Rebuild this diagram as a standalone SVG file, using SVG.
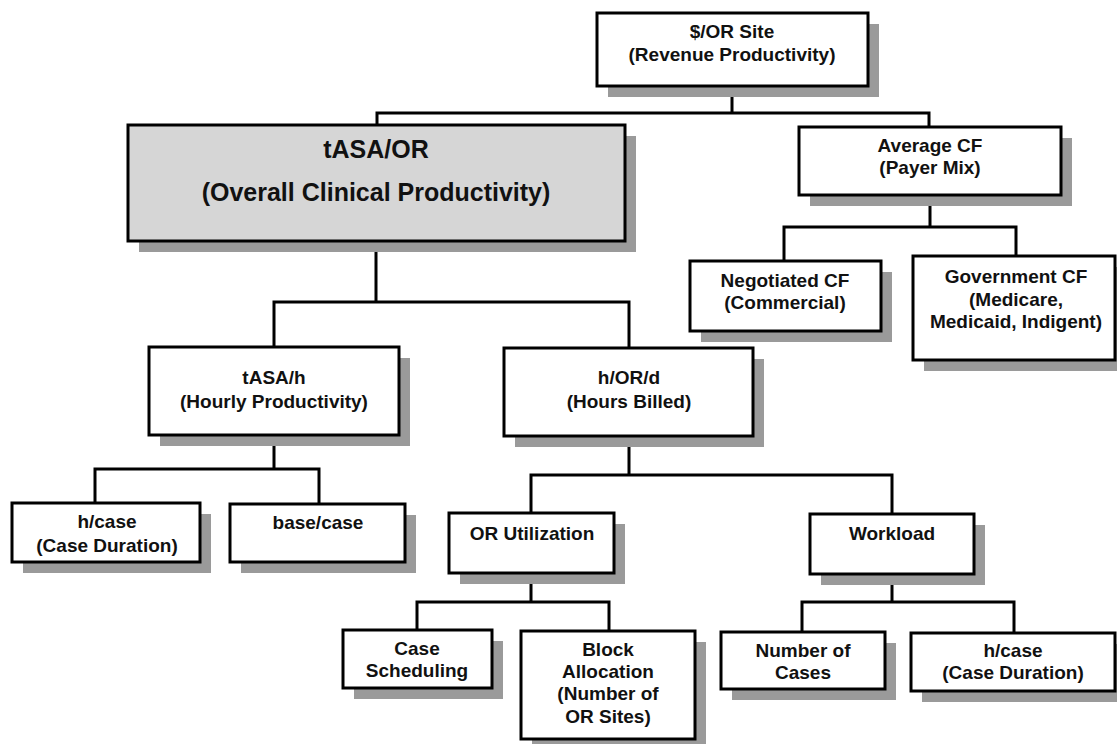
<svg xmlns="http://www.w3.org/2000/svg" width="1117" height="744" viewBox="0 0 1117 744">
<style>
.sh{fill:#9a9a9a}
.bx{fill:#ffffff;stroke:#000;stroke-width:3}
.gbx{fill:#d6d6d6;stroke:#000;stroke-width:3}
.t{font-family:"Liberation Sans",Arial,sans-serif;font-weight:bold;font-size:19px;fill:#111;text-anchor:middle}
.tl{font-family:"Liberation Sans",Arial,sans-serif;font-weight:bold;font-size:25px;fill:#111;text-anchor:middle}
.c{fill:none;stroke:#000;stroke-width:3;stroke-linejoin:miter}
</style>
<rect width="1117" height="744" fill="#fff"/>
<g id="connectors">
<path class="c" d="M732 86V113M377 125V113H929V127"/>
<path class="c" d="M930 195V227M784 261V227H1016V256"/>
<path class="c" d="M376 241V302M274 347V302H629V348"/>
<path class="c" d="M274 435V469M95 503V469H319V504"/>
<path class="c" d="M629 436V475M531 513V475H892V514"/>
<path class="c" d="M531 573V602M417 630V602H609V631"/>
<path class="c" d="M892 574V602M802 632V602H1014V633"/>
</g>
<g id="n-orsite">
<rect class="sh" x="608" y="24" width="271" height="73"/>
<rect class="bx" x="597" y="13" width="271" height="73"/>
<text class="t" x="732" y="38">$/OR Site</text>
<text class="t" x="732" y="61">(Revenue Productivity)</text>
</g>
<g id="n-tasaor">
<rect class="sh" x="139" y="136" width="497" height="116"/>
<rect class="gbx" x="128" y="125" width="497" height="116"/>
<text class="tl" x="376" y="158">tASA/OR</text>
<text class="tl" x="376" y="201">(Overall Clinical Productivity)</text>
</g>
<g id="n-avgcf">
<rect class="sh" x="810" y="138" width="262" height="68"/>
<rect class="bx" x="799" y="127" width="262" height="68"/>
<text class="t" x="930" y="152">Average CF</text>
<text class="t" x="930" y="174">(Payer Mix)</text>
</g>
<g id="n-negcf">
<rect class="sh" x="701" y="272" width="191" height="70"/>
<rect class="bx" x="690" y="261" width="191" height="70"/>
<text class="t" x="785" y="287">Negotiated CF</text>
<text class="t" x="785" y="309">(Commercial)</text>
</g>
<g id="n-govcf">
<rect class="sh" x="924" y="267" width="202" height="104"/>
<rect class="bx" x="913" y="256" width="202" height="104"/>
<text class="t" x="1016" y="283">Government CF</text>
<text class="t" x="1016" y="306">(Medicare,</text>
<text class="t" x="1016" y="328">Medicaid, Indigent)</text>
</g>
<g id="n-tasah">
<rect class="sh" x="160" y="358" width="250" height="88"/>
<rect class="bx" x="149" y="347" width="250" height="88"/>
<text class="t" x="274" y="384">tASA/h</text>
<text class="t" x="274" y="408">(Hourly Productivity)</text>
</g>
<g id="n-hord">
<rect class="sh" x="515" y="359" width="249" height="88"/>
<rect class="bx" x="504" y="348" width="249" height="88"/>
<text class="t" x="629" y="384">h/OR/d</text>
<text class="t" x="629" y="408">(Hours Billed)</text>
</g>
<g id="n-hcase1">
<rect class="sh" x="23" y="514" width="188" height="59"/>
<rect class="bx" x="12" y="503" width="188" height="59"/>
<text class="t" x="107" y="528">h/case</text>
<text class="t" x="107" y="552">(Case Duration)</text>
</g>
<g id="n-basecase">
<rect class="sh" x="241" y="515" width="175" height="58"/>
<rect class="bx" x="230" y="504" width="175" height="58"/>
<text class="t" x="318" y="529">base/case</text>
</g>
<g id="n-orutil">
<rect class="sh" x="460" y="524" width="165" height="60"/>
<rect class="bx" x="449" y="513" width="165" height="60"/>
<text class="t" x="532" y="540">OR Utilization</text>
</g>
<g id="n-workload">
<rect class="sh" x="821" y="525" width="164" height="60"/>
<rect class="bx" x="810" y="514" width="164" height="60"/>
<text class="t" x="892" y="540">Workload</text>
</g>
<g id="n-casesched">
<rect class="sh" x="354" y="641" width="149" height="58"/>
<rect class="bx" x="343" y="630" width="149" height="58"/>
<text class="t" x="417" y="655">Case</text>
<text class="t" x="417" y="677">Scheduling</text>
</g>
<g id="n-block">
<rect class="sh" x="532" y="642" width="174" height="108"/>
<rect class="bx" x="521" y="631" width="174" height="108"/>
<text class="t" x="608" y="656">Block</text>
<text class="t" x="608" y="678">Allocation</text>
<text class="t" x="608" y="700">(Number of</text>
<text class="t" x="608" y="723">OR Sites)</text>
</g>
<g id="n-numcases">
<rect class="sh" x="732" y="643" width="164" height="57"/>
<rect class="bx" x="721" y="632" width="164" height="57"/>
<text class="t" x="803" y="657">Number of</text>
<text class="t" x="803" y="679">Cases</text>
</g>
<g id="n-hcase2">
<rect class="sh" x="922" y="644" width="199" height="58"/>
<rect class="bx" x="911" y="633" width="204" height="58"/>
<text class="t" x="1013" y="657">h/case</text>
<text class="t" x="1013" y="679">(Case Duration)</text>
</g>
</svg>
